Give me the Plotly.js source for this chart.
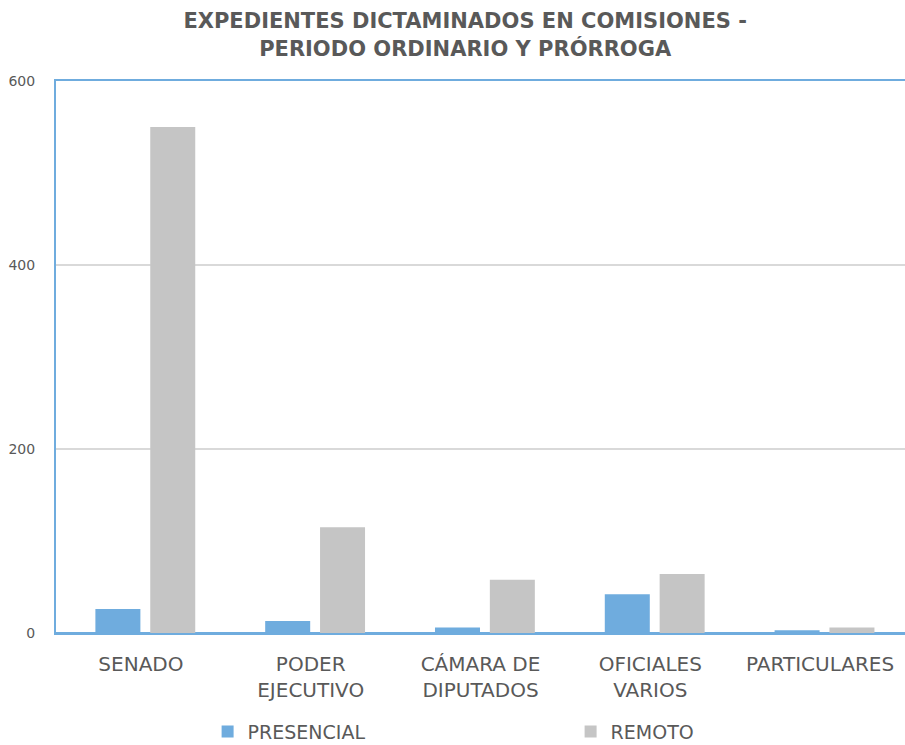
<!DOCTYPE html>
<html>
<head>
<meta charset="utf-8">
<script src="https://cdn.plot.ly/plotly-3.0.1.min.js"></script>
<style>html,body{margin:0;padding:0;background:#fff;}#chart{width:905px;height:745px;}</style>
</head>
<body>
<div id="chart"></div>
<script>
const categories = ["SENADO", "PODER<br>EJECUTIVO", "CÁMARA DE<br>DIPUTADOS", "OFICIALES<br>VARIOS", "PARTICULARES"];
const presencial = [26, 13, 6, 42, 3];
const remoto = [550, 115, 58, 64, 6];
const seriesNames = ["PRESENCIAL", "REMOTO"];
const yTicks = [0, 200, 400, 600];

const FONT = "DejaVu Sans, sans-serif";
const TXT = "#595959";
const BLUE = "#6FACDE";
const GRAY = "#C5C5C5";

const traces = [
  {type: "bar", name: seriesNames[0], x: categories, y: presencial, marker: {color: BLUE},
   offset: -0.268, width: 0.265, hoverinfo: "x+y"},
  {type: "bar", name: seriesNames[1], x: categories, y: remoto, marker: {color: GRAY},
   offset: 0.055, width: 0.265, hoverinfo: "x+y"}
];

const layout = {
  width: 905, height: 745,
  paper_bgcolor: "#fff", plot_bgcolor: "#fff",
  margin: {l: 56, r: 0, t: 81, b: 112, autoexpand: false},
  font: {family: FONT, color: TXT},
  title: {
    text: "<b>EXPEDIENTES DICTAMINADOS EN COMISIONES -<br>PERIODO ORDINARIO Y PRÓRROGA</b>",
    font: {family: FONT, size: 21, color: TXT},
    x: 0.514, xanchor: "center", y: 0.962, yanchor: "top"
  },
  barmode: "overlay",
  showlegend: true,
  legend: {
    orientation: "h",
    xref: "container", yref: "container",
    x: 0.2294, xanchor: "left", y: 0.018, yanchor: "middle",
    font: {family: FONT, size: 19, color: TXT},
    entrywidth: 318, entrywidthmode: "pixels",
    itemwidth: 30
  },
  xaxis: {
    showline: true, linecolor: BLUE, linewidth: 2, mirror: true,
    showgrid: false, ticks: "outside", ticklen: 12, tickcolor: "rgba(0,0,0,0)",
    tickfont: {family: FONT, size: 20, color: TXT},
    fixedrange: true
  },
  yaxis: {
    range: [0, 600], tickvals: yTicks,
    showline: true, linecolor: BLUE, linewidth: 2,
    showgrid: true, gridcolor: "#D9D9D9", gridwidth: 1.5,
    zeroline: true, zerolinecolor: BLUE, zerolinewidth: 3,
    ticks: "outside", ticklen: 16, tickcolor: "rgba(0,0,0,0)",
    tickfont: {family: FONT, size: 14, color: TXT},
    fixedrange: true
  }
};

Plotly.newPlot("chart", traces, layout, {displayModeBar: false, staticPlot: true});
</script>
</body>
</html>
